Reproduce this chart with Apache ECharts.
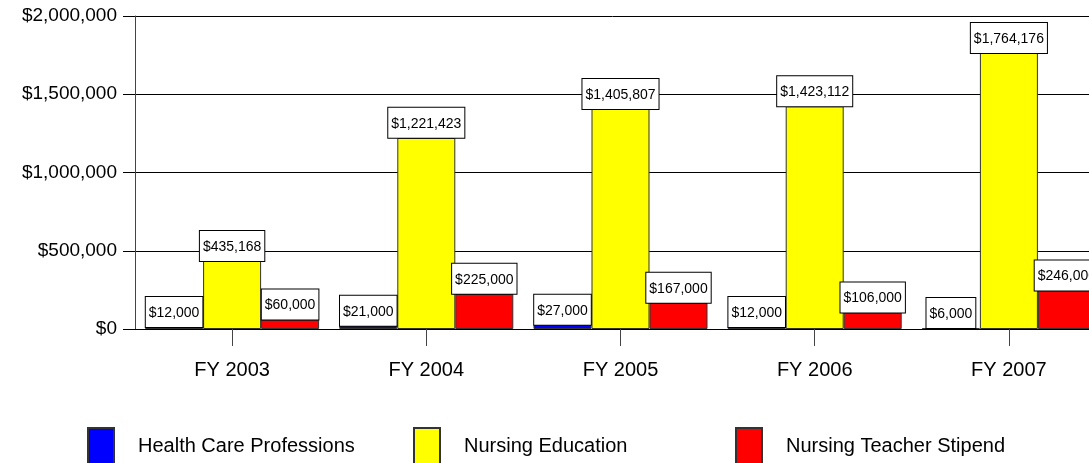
<!DOCTYPE html>
<html>
<head>
<meta charset="utf-8">
<script src="https://cdn.jsdelivr.net/npm/echarts@6/dist/echarts.min.js"></script>
<style>
  html, body { margin: 0; padding: 0; background: #fff; }
  #chart { width: 1089px; height: 463px; }
</style>
</head>
<body>
<div id="chart"></div>
<script>
const years = ['FY 2003', 'FY 2004', 'FY 2005', 'FY 2006', 'FY 2007'];
const healthCare = [12000, 21000, 27000, 12000, 6000];
const nursingEducation = [435168, 1221423, 1405807, 1423112, 1764176];
const teacherStipend = [60000, 225000, 167000, 106000, 246000];
const seriesNames = ['Health Care Professions', 'Nursing Education', 'Nursing Teacher Stipend'];

const font = "'Liberation Sans', Arial, sans-serif";
const money = v => '$' + Number(v).toLocaleString('en-US');

function barSeries(name, data, color) {
    return {
        name: name,
        type: 'bar',
        data: data,
        barWidth: 58,
        barGap: '0%',
        itemStyle: { color: color, borderColor: '#333', borderWidth: 1 },
        label: {
            show: true,
            position: 'top',
            distance: 0,
            formatter: p => money(p.value),
            fontFamily: font,
            fontSize: 14,
            color: '#000',
            backgroundColor: '#fff',
            borderColor: '#000',
            borderWidth: 1,
            lineHeight: 20,
            padding: [6, 3, 4, 3]
        }
    };
}

function legendAt(name, left) {
    return {
        data: [name],
        left: left,
        top: 427,
        padding: 0,
        icon: 'rect',
        itemWidth: 26,
        itemHeight: 36,
        textStyle: { fontFamily: font, fontSize: 20, color: '#000', padding: [0, 0, 0, 19] }
    };
}

const chart = echarts.init(document.getElementById('chart'));
chart.setOption({
    animation: false,
    backgroundColor: '#fff',
    grid: { left: 135, right: -17, top: 16, bottom: 134, containLabel: false, outerBoundsMode: 'none' },
    legend: [
        legendAt(seriesNames[0], 87),
        legendAt(seriesNames[1], 413),
        legendAt(seriesNames[2], 735)
    ],
    xAxis: {
        type: 'category',
        data: years,
        axisLine: { show: true, lineStyle: { color: '#000' } },
        axisTick: { show: true, alignWithLabel: true, length: 17, lineStyle: { color: '#444' } },
        axisLabel: { fontFamily: font, fontSize: 20, color: '#000', margin: 31 }
    },
    yAxis: {
        type: 'value',
        min: 0,
        max: 2000000,
        interval: 500000,
        axisLine: { show: true, lineStyle: { color: '#444' } },
        axisTick: { show: true, length: 12, lineStyle: { color: '#000' } },
        splitLine: { lineStyle: { color: '#000' } },
        axisLabel: { fontFamily: font, fontSize: 19, color: '#000', margin: 18, formatter: v => money(v) }
    },
    series: [
        barSeries(seriesNames[0], healthCare, '#0000ff'),
        barSeries(seriesNames[1], nursingEducation, '#ffff00'),
        barSeries(seriesNames[2], teacherStipend, '#ff0000')
    ]
});
</script>
</body>
</html>
